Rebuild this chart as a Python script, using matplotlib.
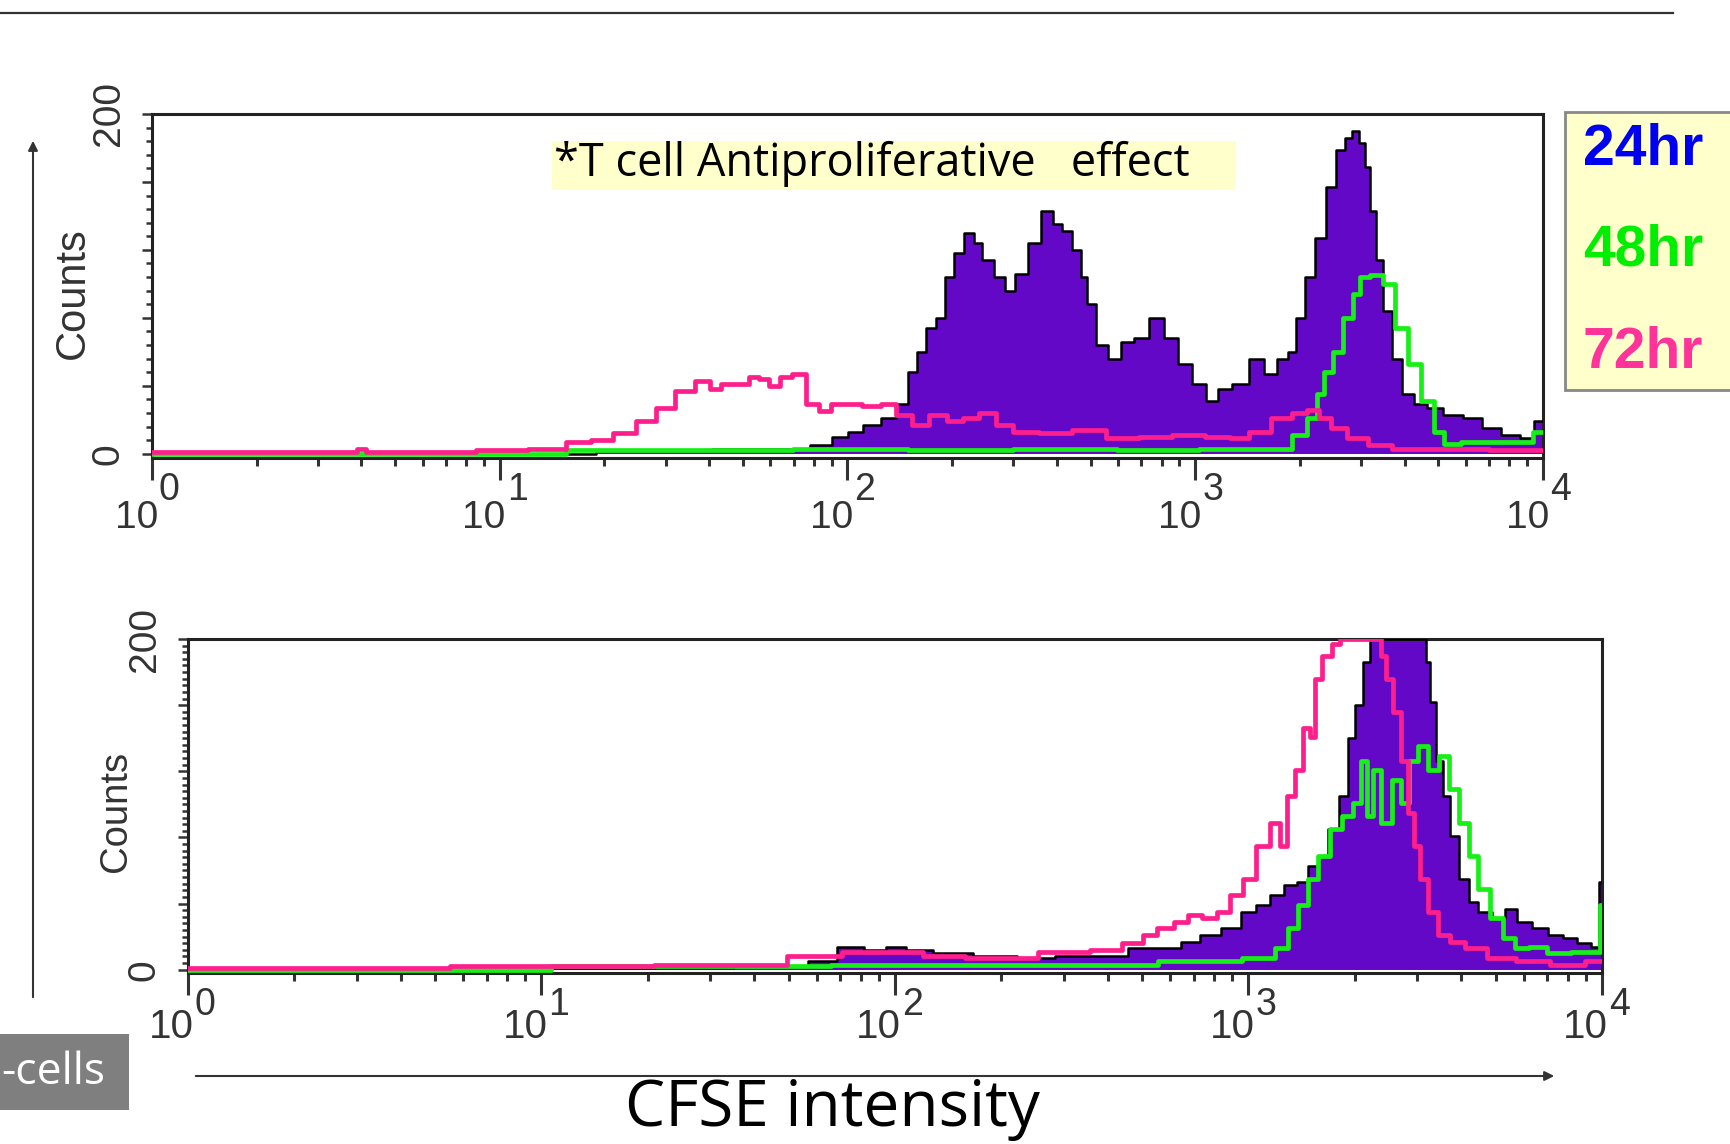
import numpy as np
import matplotlib
matplotlib.use("Agg")
import matplotlib.pyplot as plt
import matplotlib.font_manager as fm
from matplotlib import transforms
from matplotlib.patches import Rectangle, FancyArrowPatch
from matplotlib.lines import Line2D
from matplotlib.ticker import FixedLocator, LogLocator, NullFormatter

# ---------------- data (log10 CFSE channel, counts) ----------------
top24_log = [0.00, 1.25, 1.30, 1.50, 1.70, 1.85, 1.93, 1.98, 2.02, 2.07, 2.12, 2.16,
             2.19, 2.21, 2.24, 2.27, 2.29, 2.32, 2.35, 2.375, 2.40, 2.44, 2.465, 2.50,
             2.54, 2.575, 2.605, 2.63, 2.66, 2.68, 2.70, 2.73, 2.77, 2.805, 2.84, 2.89,
             2.93, 2.97, 3.01, 3.05, 3.08, 3.13, 3.18, 3.215, 3.255, 3.28, 3.30, 3.33,
             3.36, 3.39, 3.42, 3.44, 3.46, 3.48, 3.495, 3.51, 3.53, 3.55, 3.58, 3.61,
             3.65, 3.685, 3.74, 3.80, 3.85, 3.905, 3.96, 3.99, 4.00]
top24_cnt = [0, 0, 2, 2, 3, 3, 5, 10, 13, 17, 21, 29,
             48, 60, 74, 80, 104, 118, 130, 124, 114, 104, 96, 106,
             124, 143, 135, 131, 120, 104, 88, 64, 56, 66, 68, 80,
             68, 53, 41, 31, 38, 41, 56, 47, 56, 60, 80, 104,
             127, 157, 179, 186, 190, 183, 169, 143, 114, 84, 56, 35,
             29, 27, 23, 21, 15, 11, 9, 19, 19]

top48_log = [0.00, 1.18, 1.20, 1.60, 2.00, 2.30, 2.60, 2.90, 3.10, 3.255, 3.30, 3.34,
             3.36, 3.38, 3.41, 3.44, 3.465, 3.485, 3.52, 3.56, 3.59, 3.63, 3.67, 3.705,
             3.725, 3.80, 3.95, 3.99, 4.00]
top48_cnt = [0, 0, 2, 2, 3, 2, 3, 2, 3, 3, 11, 21,
             35, 48, 60, 80, 94, 104, 105, 100, 74, 53, 31, 13,
             6, 7, 7, 13, 13]

top72_log = [0.00, 0.58, 0.60, 0.63, 0.85, 1.00, 1.15, 1.23, 1.29, 1.36, 1.42, 1.475,
             1.53, 1.59, 1.62, 1.65, 1.705, 1.73, 1.76, 1.79, 1.82, 1.86, 1.90, 1.935,
             1.97, 2.01, 2.07, 2.12, 2.16, 2.21, 2.26, 2.31, 2.355, 2.40, 2.45, 2.50,
             2.595, 2.69, 2.79, 2.88, 2.98, 3.07, 3.13, 3.18, 3.255, 3.30, 3.34, 3.37,
             3.41, 3.46, 3.53, 3.60, 4.00]
top72_cnt = [1, 1, 3, 1, 1, 2, 3, 7, 8, 12, 19, 27,
             37, 43, 38, 41, 41, 45, 44, 40, 45, 47, 29, 25,
             29, 29, 28, 29, 23, 17, 23, 19, 21, 24, 17, 13,
             12, 14, 9, 10, 11, 10, 9, 13, 21, 24, 26, 21,
             15, 9, 5, 3, 2]

bot24_log = [0.00, 1.30, 1.70, 1.80, 1.87, 1.95, 2.00, 2.06, 2.15, 2.28, 2.40, 2.50,
             2.60, 2.71, 2.78, 2.835, 2.89, 2.95, 3.004, 3.04, 3.08, 3.12, 3.155, 3.18,
             3.21, 3.24, 3.27, 3.29, 3.31, 3.335, 3.35, 3.50, 3.505, 3.52, 3.54, 3.56,
             3.58, 3.61, 3.635, 3.665, 3.71, 3.74, 3.78, 3.825, 3.87, 3.91, 3.95, 3.985,
             4.00]
bot24_cnt = [0, 1, 2, 5, 14, 12, 14, 12, 10, 8, 7, 8,
             8, 13, 13, 17, 21, 25, 35, 39, 45, 51, 53, 63,
             69, 85, 105, 140, 160, 186, 200, 200, 186, 162, 126, 105,
             81, 55, 41, 35, 31, 37, 29, 25, 21, 19, 16, 14,
             53]

bot48_log = [0.00, 1.00, 1.05, 1.50, 2.00, 2.50, 2.90, 3.05, 3.10, 3.125, 3.155, 3.18,
             3.21, 3.25, 3.28, 3.31, 3.325, 3.345, 3.36, 3.39, 3.42, 3.44, 3.465, 3.495,
             3.52, 3.555, 3.58, 3.61, 3.635, 3.665, 3.70, 3.74, 3.77, 3.815, 3.87, 3.95,
             3.99, 4.00]
bot48_cnt = [0, 0, 2, 2, 3, 3, 5, 7, 13, 25, 39, 55,
             69, 85, 93, 101, 126, 93, 121, 89, 115, 101, 126, 135,
             121, 129, 109, 89, 69, 49, 31, 19, 13, 14, 10, 11,
             11, 39]

bot72_log = [0.00, 1.00, 1.50, 1.83, 1.87, 2.06, 2.10, 2.28, 2.50, 2.60, 2.68, 2.72,
             2.76, 2.815, 2.845, 2.89, 2.93, 2.965, 3.004, 3.04, 3.08, 3.10, 3.12, 3.145,
             3.165, 3.18, 3.195, 3.22, 3.25, 3.27, 3.37, 3.38, 3.40, 3.42, 3.44, 3.46,
             3.475, 3.495, 3.52, 3.55, 3.59, 3.635, 3.71, 3.80, 3.90, 4.00]
bot72_cnt = [1, 2, 3, 8, 11, 11, 8, 7, 11, 12, 16, 21,
             25, 29, 33, 31, 35, 45, 55, 75, 89, 75, 105, 121,
             146, 141, 176, 190, 197, 200, 200, 190, 176, 156, 126, 95,
             75, 55, 35, 21, 17, 13, 7, 5, 3, 5]

decades = [0, 1, 2, 3, 4]
legend_labels = ["24hr", "48hr", "72hr"]
title_text = "*T cell Antiproliferative   effect"
xlabel_text = "CFSE intensity"
ylabel_text = "Counts"
side_text = "-cells"

# ---------------- style ----------------
PURPLE = "#6408c8"
GREEN = "#16f016"
PINK = "#ff1f8c"
LEG_COLORS = ["#0000f0", "#00ee00", "#ff3399"]
DARK = "#222222"

_avail = {f.name for f in fm.fontManager.ttflist}
NARROW = "Liberation Sans Narrow" if "Liberation Sans Narrow" in _avail else "Liberation Sans"
SANS = "Liberation Sans"
OPEN = "Open Sans" if "Open Sans" in _avail else "DejaVu Sans"

W, H = 1731, 1144
fig = plt.figure(figsize=(W / 100, H / 100), dpi=100)
fig.patch.set_facecolor("white")


def fx(x):
    return x / W


def fy(y):
    return 1 - y / H


def make_axes(l, t, r, b):
    return fig.add_axes([fx(l), fy(b), fx(r) - fx(l), fy(t) - fy(b)])


ax_top = make_axes(152, 114, 1543, 458)
ax_bot = make_axes(188, 639, 1602, 973)


def draw_panel(ax, l24, c24, l48, c48, l72, c72, ymin, minor_step):
    x24 = 10 ** np.array(l24, dtype=float)
    x48 = 10 ** np.array(l48, dtype=float)
    x72 = 10 ** np.array(l72, dtype=float)
    ax.fill_between(x24, c24, step="mid", color=PURPLE, lw=0, zorder=2)
    ax.step(x24, c24, where="mid", color="black", lw=1.8, zorder=3)
    ax.step(x48, c48, where="mid", color=GREEN, lw=3.4, zorder=4)
    ax.step(x72, c72, where="mid", color=PINK, lw=3.4, zorder=5)
    ax.set_xscale("log")
    ax.set_xlim(1, 1e4)
    ax.set_ylim(ymin, 200)
    for s in ax.spines.values():
        s.set_linewidth(2.2)
        s.set_color(DARK)
    # x ticks
    ax.xaxis.set_major_locator(FixedLocator([10 ** k for k in decades]))
    ax.xaxis.set_minor_locator(LogLocator(base=10, subs=np.arange(2, 10)))
    ax.xaxis.set_major_formatter(NullFormatter())
    ax.xaxis.set_minor_formatter(NullFormatter())
    ax.tick_params(axis="x", which="major", direction="out", length=16, width=2.2, color="#333333")
    ax.tick_params(axis="x", which="minor", direction="out", length=6, width=2.2, color="#333333")
    # y ticks
    majors = list(range(0, 201, 40))
    ax.yaxis.set_major_locator(FixedLocator(majors))
    ax.yaxis.set_minor_locator(FixedLocator(list(range(0, 201, minor_step))))
    ax.set_yticklabels(["0" if v == 0 else ("200" if v == 200 else "") for v in majors],
                       rotation=90, va="center", fontfamily=SANS, fontsize=28, color="#333333")
    ax.tick_params(axis="y", which="major", direction="out", length=7, width=1.8, color="#333333", pad=11)
    ax.tick_params(axis="y", which="minor", direction="out", length=4, width=1.8, color="#333333")


def decade_labels(ax, base_dy, sup_dy, size, sup_size):
    base_tr = ax.get_xaxis_transform()
    for k in decades:
        t1 = transforms.offset_copy(base_tr, fig=fig, x=6, y=base_dy, units="dots")
        ax.text(10 ** k, 0, "10", transform=t1, ha="right", va="baseline",
                fontfamily=NARROW, fontsize=size, color="#333333")
        t2 = transforms.offset_copy(base_tr, fig=fig, x=7, y=sup_dy, units="dots")
        ax.text(10 ** k, 0, str(k), transform=t2, ha="left", va="baseline",
                fontfamily=NARROW, fontsize=sup_size, color="#333333")


draw_panel(ax_top, top24_log, top24_cnt, top48_log, top48_cnt, top72_log, top72_cnt, -2.5, 8)
draw_panel(ax_bot, bot24_log, bot24_cnt, bot48_log, bot48_cnt, bot72_log, bot72_cnt, -2.0, 4)
decade_labels(ax_top, -70, -42, 28, 27)
decade_labels(ax_bot, -65, -42, 29, 27)

# y-axis titles
fig.text(fx(73), fy(293), ylabel_text, rotation=90, ha="center", va="center",
         fontfamily=SANS, fontsize=30, color="#333333")
fig.text(fx(116), fy(811), ylabel_text, rotation=90, ha="center", va="center",
         fontfamily=SANS, fontsize=27.5, color="#333333")

# title annotation with yellow band
fig.add_artist(Rectangle((fx(552), fy(190)), fx(1236) - fx(552), fy(141) - fy(190),
                         transform=fig.transFigure, facecolor="#ffffcc", edgecolor="none", zorder=6))
fig.text(fx(554), fy(176), title_text, ha="left", va="baseline", fontfamily=OPEN,
         fontsize=32.5, color="black", zorder=7)

# legend box
fig.add_artist(Rectangle((fx(1565), fy(390)), fx(1745) - fx(1565), fy(112) - fy(390),
                         transform=fig.transFigure, facecolor="#ffffcc", edgecolor="#888888",
                         lw=2, zorder=6))
for lab, col, base in zip(legend_labels, LEG_COLORS, [165, 265, 368]):
    fig.text(fx(1583), fy(base), lab, ha="left", va="baseline", fontfamily=SANS,
             fontweight="bold", fontsize=41, color=col, zorder=7)

# decorative rule and arrows
fig.add_artist(Line2D([0, fx(1673)], [fy(13), fy(13)], transform=fig.transFigure,
                      color="#333333", lw=1.6))
fig.add_artist(FancyArrowPatch((fx(33), fy(1000)), (fx(33), fy(138)), transform=fig.transFigure,
                               arrowstyle="-|>", mutation_scale=14, color="#333333", lw=1.5))
fig.add_artist(FancyArrowPatch((fx(193), fy(1076)), (fx(1557), fy(1076)), transform=fig.transFigure,
                               arrowstyle="-|>", mutation_scale=14, color="#333333", lw=1.5))

# side label box
fig.add_artist(Rectangle((0, fy(1110)), fx(129), fy(1034) - fy(1110), transform=fig.transFigure,
                         facecolor="#7f7f7f", edgecolor="none"))
fig.text(fx(1), fy(1073), side_text, ha="left", va="center", fontfamily=OPEN,
         fontsize=32, color="white")

# x-axis title
fig.text(fx(832), fy(1126), xlabel_text, ha="center", va="baseline", fontfamily=OPEN,
         fontsize=46, color="black")

fig.savefig("out.png", dpi=100, facecolor="white")
